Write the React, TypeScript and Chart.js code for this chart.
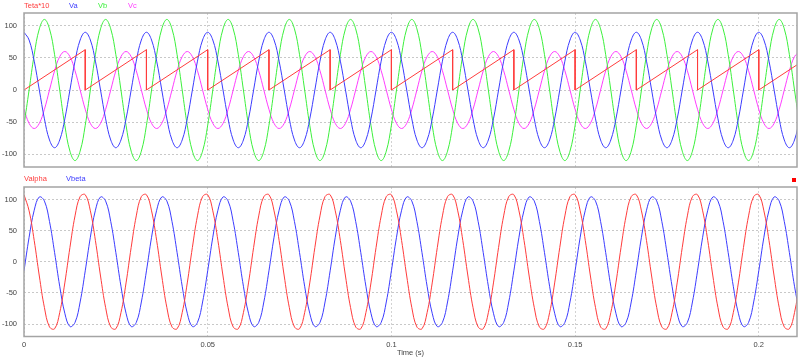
import React, { useEffect, useRef } from "react";
import { Chart, registerables } from "chart.js";

Chart.register(...registerables);

// ---- data ----
const time = [
  0, 0.00139, 0.00278, 0.00417, 0.00556, 0.00694, 0.00833, 0.00972, 0.01111, 0.0125, 0.01389, 0.01528,
  0.01667, 0.01806, 0.01944, 0.02083, 0.02222, 0.02361, 0.025, 0.02639, 0.02778, 0.02917, 0.03056, 0.03194,
  0.03333, 0.03472, 0.03611, 0.0375, 0.03889, 0.04028, 0.04167, 0.04306, 0.04444, 0.04583, 0.04722, 0.04861,
  0.05, 0.05139, 0.05278, 0.05417, 0.05556, 0.05694, 0.05833, 0.05972, 0.06111, 0.0625, 0.06389, 0.06528,
  0.06667, 0.06806, 0.06944, 0.07083, 0.07222, 0.07361, 0.075, 0.07639, 0.07778, 0.07917, 0.08056, 0.08194,
  0.08333, 0.08472, 0.08611, 0.0875, 0.08889, 0.09028, 0.09167, 0.09306, 0.09444, 0.09583, 0.09722, 0.09861,
  0.1, 0.10139, 0.10278, 0.10417, 0.10556, 0.10694, 0.10833, 0.10972, 0.11111, 0.1125, 0.11389, 0.11528,
  0.11667, 0.11806, 0.11944, 0.12083, 0.12222, 0.12361, 0.125, 0.12639, 0.12778, 0.12917, 0.13056, 0.13194,
  0.13333, 0.13472, 0.13611, 0.1375, 0.13889, 0.14028, 0.14167, 0.14306, 0.14444, 0.14583, 0.14722, 0.14861,
  0.15, 0.15139, 0.15278, 0.15417, 0.15556, 0.15694, 0.15833, 0.15972, 0.16111, 0.1625, 0.16389, 0.16528,
  0.16667, 0.16806, 0.16944, 0.17083, 0.17222, 0.17361, 0.175, 0.17639, 0.17778, 0.17917, 0.18056, 0.18194,
  0.18333, 0.18472, 0.18611, 0.1875, 0.18889, 0.19028, 0.19167, 0.19306, 0.19444, 0.19583, 0.19722, 0.19861,
  0.2, 0.20139, 0.20278, 0.20417, 0.20556, 0.20694, 0.20833, 0.20972, 0.21111,
];

const va = [
  90, 77.9, 45, 0, -45, -77.9, -90, -77.9, -45, 0, 45, 77.9,
  90, 77.9, 45, 0, -45, -77.9, -90, -77.9, -45, 0, 45, 77.9,
  90, 77.9, 45, 0, -45, -77.9, -90, -77.9, -45, 0, 45, 77.9,
  90, 77.9, 45, 0, -45, -77.9, -90, -77.9, -45, 0, 45, 77.9,
  90, 77.9, 45, 0, -45, -77.9, -90, -77.9, -45, 0, 45, 77.9,
  90, 77.9, 45, 0, -45, -77.9, -90, -77.9, -45, 0, 45, 77.9,
  90, 77.9, 45, 0, -45, -77.9, -90, -77.9, -45, 0, 45, 77.9,
  90, 77.9, 45, 0, -45, -77.9, -90, -77.9, -45, 0, 45, 77.9,
  90, 77.9, 45, 0, -45, -77.9, -90, -77.9, -45, 0, 45, 77.9,
  90, 77.9, 45, 0, -45, -77.9, -90, -77.9, -45, 0, 45, 77.9,
  90, 77.9, 45, 0, -45, -77.9, -90, -77.9, -45, 0, 45, 77.9,
  90, 77.9, 45, 0, -45, -77.9, -90, -77.9, -45, 0, 45, 77.9,
  90, 77.9, 45, 0, -45, -77.9, -90, -77.9, -45,
];

const vb = [
  -55, 0, 55, 95.3, 110, 95.3, 55, 0, -55, -95.3, -110, -95.3,
  -55, 0, 55, 95.3, 110, 95.3, 55, 0, -55, -95.3, -110, -95.3,
  -55, 0, 55, 95.3, 110, 95.3, 55, 0, -55, -95.3, -110, -95.3,
  -55, 0, 55, 95.3, 110, 95.3, 55, 0, -55, -95.3, -110, -95.3,
  -55, 0, 55, 95.3, 110, 95.3, 55, 0, -55, -95.3, -110, -95.3,
  -55, 0, 55, 95.3, 110, 95.3, 55, 0, -55, -95.3, -110, -95.3,
  -55, 0, 55, 95.3, 110, 95.3, 55, 0, -55, -95.3, -110, -95.3,
  -55, 0, 55, 95.3, 110, 95.3, 55, 0, -55, -95.3, -110, -95.3,
  -55, 0, 55, 95.3, 110, 95.3, 55, 0, -55, -95.3, -110, -95.3,
  -55, 0, 55, 95.3, 110, 95.3, 55, 0, -55, -95.3, -110, -95.3,
  -55, 0, 55, 95.3, 110, 95.3, 55, 0, -55, -95.3, -110, -95.3,
  -55, 0, 55, 95.3, 110, 95.3, 55, 0, -55, -95.3, -110, -95.3,
  -55, 0, 55, 95.3, 110, 95.3, 55, 0, -55,
];

const vc = [
  -30, -52, -60, -52, -30, 0, 30, 52, 60, 52, 30, 0,
  -30, -52, -60, -52, -30, 0, 30, 52, 60, 52, 30, 0,
  -30, -52, -60, -52, -30, 0, 30, 52, 60, 52, 30, 0,
  -30, -52, -60, -52, -30, 0, 30, 52, 60, 52, 30, 0,
  -30, -52, -60, -52, -30, 0, 30, 52, 60, 52, 30, 0,
  -30, -52, -60, -52, -30, 0, 30, 52, 60, 52, 30, 0,
  -30, -52, -60, -52, -30, 0, 30, 52, 60, 52, 30, 0,
  -30, -52, -60, -52, -30, 0, 30, 52, 60, 52, 30, 0,
  -30, -52, -60, -52, -30, 0, 30, 52, 60, 52, 30, 0,
  -30, -52, -60, -52, -30, 0, 30, 52, 60, 52, 30, 0,
  -30, -52, -60, -52, -30, 0, 30, 52, 60, 52, 30, 0,
  -30, -52, -60, -52, -30, 0, 30, 52, 60, 52, 30, 0,
  -30, -52, -60, -52, -30, 0, 30, 52, 60,
];

const tetaTime = [
  0, 0.01667, 0.01667, 0.03333, 0.03333, 0.05, 0.05, 0.06667, 0.06667, 0.08333, 0.08333, 0.1, 0.1,
  0.11667, 0.11667, 0.13333, 0.13333, 0.15, 0.15, 0.16667, 0.16667, 0.18333, 0.18333, 0.2, 0.2, 0.21111,
];
const teta10 = [
  0, 62.8, 0, 62.8, 0, 62.8, 0, 62.8, 0, 62.8, 0, 62.8, 0,
  62.8, 0, 62.8, 0, 62.8, 0, 62.8, 0, 62.8, 0, 62.8, 0, 41.9,
];

const valpha = [
  107.6, 81.7, 34, -22.9, -73.6, -104.6, -107.6, -81.7, -34, 22.9, 73.6, 104.6,
  107.6, 81.7, 34, -22.9, -73.6, -104.6, -107.6, -81.7, -34, 22.9, 73.6, 104.6,
  107.6, 81.7, 34, -22.9, -73.6, -104.6, -107.6, -81.7, -34, 22.9, 73.6, 104.6,
  107.6, 81.7, 34, -22.9, -73.6, -104.6, -107.6, -81.7, -34, 22.9, 73.6, 104.6,
  107.6, 81.7, 34, -22.9, -73.6, -104.6, -107.6, -81.7, -34, 22.9, 73.6, 104.6,
  107.6, 81.7, 34, -22.9, -73.6, -104.6, -107.6, -81.7, -34, 22.9, 73.6, 104.6,
  107.6, 81.7, 34, -22.9, -73.6, -104.6, -107.6, -81.7, -34, 22.9, 73.6, 104.6,
  107.6, 81.7, 34, -22.9, -73.6, -104.6, -107.6, -81.7, -34, 22.9, 73.6, 104.6,
  107.6, 81.7, 34, -22.9, -73.6, -104.6, -107.6, -81.7, -34, 22.9, 73.6, 104.6,
  107.6, 81.7, 34, -22.9, -73.6, -104.6, -107.6, -81.7, -34, 22.9, 73.6, 104.6,
  107.6, 81.7, 34, -22.9, -73.6, -104.6, -107.6, -81.7, -34, 22.9, 73.6, 104.6,
  107.6, 81.7, 34, -22.9, -73.6, -104.6, -107.6, -81.7, -34, 22.9, 73.6, 104.6,
  107.6, 81.7, 34, -22.9, -73.6, -104.6, -107.6, -81.7, -34,
];

const vbeta = [
  -14.6, 39.3, 82.7, 104, 97.4, 64.6, 14.6, -39.3, -82.7, -104, -97.4, -64.6,
  -14.6, 39.3, 82.7, 104, 97.4, 64.6, 14.6, -39.3, -82.7, -104, -97.4, -64.6,
  -14.6, 39.3, 82.7, 104, 97.4, 64.6, 14.6, -39.3, -82.7, -104, -97.4, -64.6,
  -14.6, 39.3, 82.7, 104, 97.4, 64.6, 14.6, -39.3, -82.7, -104, -97.4, -64.6,
  -14.6, 39.3, 82.7, 104, 97.4, 64.6, 14.6, -39.3, -82.7, -104, -97.4, -64.6,
  -14.6, 39.3, 82.7, 104, 97.4, 64.6, 14.6, -39.3, -82.7, -104, -97.4, -64.6,
  -14.6, 39.3, 82.7, 104, 97.4, 64.6, 14.6, -39.3, -82.7, -104, -97.4, -64.6,
  -14.6, 39.3, 82.7, 104, 97.4, 64.6, 14.6, -39.3, -82.7, -104, -97.4, -64.6,
  -14.6, 39.3, 82.7, 104, 97.4, 64.6, 14.6, -39.3, -82.7, -104, -97.4, -64.6,
  -14.6, 39.3, 82.7, 104, 97.4, 64.6, 14.6, -39.3, -82.7, -104, -97.4, -64.6,
  -14.6, 39.3, 82.7, 104, 97.4, 64.6, 14.6, -39.3, -82.7, -104, -97.4, -64.6,
  -14.6, 39.3, 82.7, 104, 97.4, 64.6, 14.6, -39.3, -82.7, -104, -97.4, -64.6,
  -14.6, 39.3, 82.7, 104, 97.4, 64.6, 14.6, -39.3, -82.7,
];

const yTicks = [-100, -50, 0, 50, 100];
const xTicks = [0, 0.05, 0.1, 0.15, 0.2];
const xTickLabels = ["0", "0.05", "0.1", "0.15", "0.2"];

// ---- styles ----
const FONT = "'Liberation Sans', Arial, sans-serif";
const RED = "rgb(255,60,60)";
const BLUE = "rgb(60,60,255)";
const GREEN = "rgb(60,240,60)";
const MAGENTA = "rgb(255,60,255)";
const TXT = "#444";

const framePlugin = {
  id: "frame",
  afterDraw(chart: any) {
    const { ctx, chartArea } = chart;
    const { left, top, right, bottom } = chartArea;
    ctx.save();
    ctx.strokeStyle = "#a4a4a4";
    ctx.lineWidth = 1.5;
    ctx.strokeRect(left, top, right - left, bottom - top);
    ctx.restore();
  },
};

const pts = (xs: number[], ys: number[]) => xs.map((x, i) => ({ x, y: ys[i] }));

function makeOptions(bottomPanel: boolean, padTop: number, xHeight: number) {
  return {
    animation: false,
    responsive: false,
    maintainAspectRatio: false,
    events: [],
    layout: { padding: { top: padTop, right: 3, left: 0, bottom: 0 } },
    plugins: { legend: { display: false }, tooltip: { enabled: false }, title: { display: false } },
    elements: { point: { radius: 0 } },
    scales: {
      x: {
        type: "linear",
        min: 0,
        max: 0.2104,
        afterBuildTicks: (s: any) => {
          s.ticks = xTicks.map((v) => ({ value: v }));
        },
        afterFit: (s: any) => {
          s.height = xHeight;
        },
        grid: { color: "#d2d2d2", lineWidth: 1, drawTicks: false },
        border: { display: false, dash: [2, 2] },
        ticks: {
          display: bottomPanel,
          autoSkip: false,
          maxRotation: 0,
          padding: 4,
          color: TXT,
          font: { family: FONT, size: 7.5 },
          callback: (_v: any, i: number) => xTickLabels[i],
        },
        title: {
          display: bottomPanel,
          text: "Time (s)",
          color: TXT,
          font: { family: FONT, size: 7.5 },
          padding: { top: 0, bottom: 2 },
        },
      },
      y: {
        min: -120,
        max: 120,
        afterBuildTicks: (s: any) => {
          s.ticks = yTicks.map((v) => ({ value: v }));
        },
        afterFit: (s: any) => {
          s.width = 24;
        },
        grid: { color: "#c8c8c8", lineWidth: 1, drawTicks: false },
        border: { display: false, dash: [2, 2] },
        ticks: { padding: 7, color: TXT, font: { family: FONT, size: 7.5 } },
      },
    },
  } as any;
}

function lineDs(label: string, data: any[], color: string, tension: number) {
  return {
    label,
    data,
    borderColor: color,
    backgroundColor: color,
    borderWidth: 1,
    pointRadius: 0,
    fill: false,
    tension,
  };
}

export default function App() {
  const topRef = useRef<HTMLCanvasElement | null>(null);
  const botRef = useRef<HTMLCanvasElement | null>(null);

  useEffect(() => {
    const top = new Chart(topRef.current as HTMLCanvasElement, {
      type: "line",
      data: {
        datasets: [
          lineDs("Teta*10", pts(tetaTime, teta10), RED, 0),
          lineDs("Va", pts(time, va), BLUE, 0.4),
          lineDs("Vb", pts(time, vb), GREEN, 0.4),
          lineDs("Vc", pts(time, vc), MAGENTA, 0.4),
        ],
      },
      options: makeOptions(false, 13, 13),
      plugins: [framePlugin],
    } as any);
    const bot = new Chart(botRef.current as HTMLCanvasElement, {
      type: "line",
      data: {
        datasets: [
          lineDs("Valpha", pts(time, valpha), RED, 0.4),
          lineDs("Vbeta", pts(time, vbeta), BLUE, 0.4),
        ],
      },
      options: makeOptions(true, 15, 22.5),
      plugins: [framePlugin],
    } as any);
    return () => {
      top.destroy();
      bot.destroy();
    };
  }, []);

  const legend = (text: string, color: string, left: number, top: number) => (
    <span
      style={{
        position: "absolute",
        left,
        top,
        color,
        fontFamily: FONT,
        fontSize: 7.5,
        lineHeight: "9px",
        whiteSpace: "nowrap",
      }}
    >
      {text}
    </span>
  );

  return (
    <div
      style={{
        position: "absolute",
        left: 0,
        top: 0,
        width: 800,
        height: 359,
        background: "#fff",
        overflow: "hidden",
      }}
    >
      <canvas
        ref={topRef}
        width={800}
        height={180}
        style={{ position: "absolute", left: 0, top: 0, width: 800, height: 180 }}
      />
      <canvas
        ref={botRef}
        width={800}
        height={187}
        style={{ position: "absolute", left: 0, top: 172, width: 800, height: 187 }}
      />
      {legend("Teta*10", RED, 24, 0.5)}
      {legend("Va", BLUE, 69, 0.5)}
      {legend("Vb", GREEN, 98, 0.5)}
      {legend("Vc", MAGENTA, 128, 0.5)}
      {legend("Valpha", RED, 24, 174)}
      {legend("Vbeta", BLUE, 66, 174)}
      <div
        style={{ position: "absolute", left: 792, top: 178, width: 4, height: 4, background: "#ff0000" }}
      />
    </div>
  );
}
